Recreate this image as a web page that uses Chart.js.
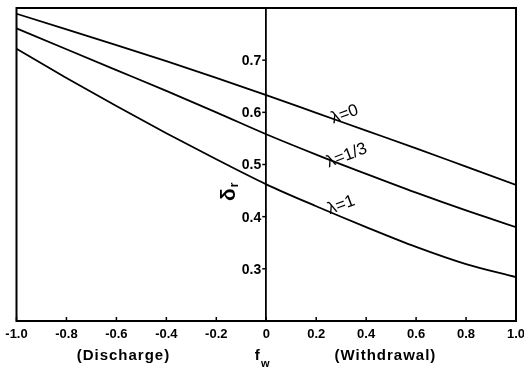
<!DOCTYPE html>
<html>
<head>
<meta charset="utf-8">
<script src="https://cdn.jsdelivr.net/npm/chart.js@4.4.1/dist/chart.umd.min.js"></script>
<style>
  html, body { margin: 0; padding: 0; background: #fff; }
  #wrap { width: 524px; height: 370px; }
</style>
</head>
<body>
<div id="wrap"><canvas id="chart"></canvas></div>
<script>
// ── DATA ──
const fw      = [-1.0, -0.8, -0.6, -0.4, -0.2, 0, 0.2, 0.4, 0.6, 0.8, 1.0];
const delta0  = [0.789, 0.759, 0.729, 0.698, 0.666, 0.633, 0.599, 0.565, 0.531, 0.496, 0.461];
const delta13 = [0.761, 0.721, 0.681, 0.641, 0.600, 0.558, 0.519, 0.482, 0.446, 0.412, 0.380];
const delta1  = [0.722, 0.666, 0.612, 0.560, 0.510, 0.462, 0.420, 0.380, 0.342, 0.309, 0.284];
const curveNames = ['λ=0', 'λ=1/3', 'λ=1'];

const xTicks      = [-1.0, -0.8, -0.6, -0.4, -0.2, 0, 0.2, 0.4, 0.6, 0.8, 1.0];
const xTickLabels = ['-1.0', '-0.8', '-0.6', '-0.4', '-0.2', '0', '0.2', '0.4', '0.6', '0.8', '1.0'];
const yTicks      = [0.3, 0.4, 0.5, 0.6, 0.7];
const yTickLabels = ['0.3', '0.4', '0.5', '0.6', '0.7'];

// ── LABEL SPOTS (data coords) ──
const curveLabelSpots = [
    { f: 0.314, d: 0.596, angle: -20 },
    { f: 0.322, d: 0.517, angle: -21 },
    { f: 0.300, d: 0.422, angle: -20 }
];
const FONT = '"Liberation Sans", Arial, sans-serif';

const toPoints = vals => fw.map((f, i) => ({ x: f, y: vals[i] }));

// ── ANNOTATIONS: frame, ticks, curve names, axis notes ──
const annotate = {
    id: 'annotate',
    afterDraw(chart) {
        const { ctx, chartArea: a, scales: { x, y } } = chart;
        ctx.save();
        ctx.strokeStyle = '#000';
        ctx.fillStyle = '#000';

        // frame
        ctx.lineWidth = 2;
        ctx.strokeRect(a.left, a.top, a.right - a.left, a.bottom - a.top);

        // x ticks point inward
        ctx.lineWidth = 1.5;
        xTicks.forEach(v => {
            const px = x.getPixelForValue(v);
            ctx.beginPath();
            ctx.moveTo(px, a.bottom);
            ctx.lineTo(px, a.bottom - 4);
            ctx.stroke();
        });

        // y ticks + labels on the centre axis
        const ax = x.getPixelForValue(0);
        ctx.font = 'bold 14px ' + FONT;
        ctx.textAlign = 'right';
        ctx.textBaseline = 'middle';
        yTicks.forEach((v, i) => {
            const py = y.getPixelForValue(v);
            ctx.beginPath();
            ctx.moveTo(ax, py);
            ctx.lineTo(ax - 4, py);
            ctx.stroke();
            ctx.fillText(yTickLabels[i], ax - 5, py + 1);
        });

        // curve names
        ctx.font = '17px ' + FONT;
        ctx.textAlign = 'center';
        curveNames.forEach((t, i) => {
            const p = curveLabelSpots[i];
            ctx.save();
            ctx.translate(x.getPixelForValue(p.f), y.getPixelForValue(p.d));
            ctx.rotate(p.angle * Math.PI / 180);
            ctx.fillText(t, 0, 0);
            ctx.restore();
        });

        // y title: delta_r, rotated
        ctx.save();
        ctx.translate(x.getPixelForValue(-0.15), y.getPixelForValue(0.447));
        ctx.rotate(-Math.PI / 2);
        ctx.font = 'bold 21px ' + FONT;
        ctx.textAlign = 'right';
        ctx.fillText('δ', 4, 0);
        ctx.font = 'bold 12px ' + FONT;
        ctx.textAlign = 'left';
        ctx.fillText('r', 5, 6);
        ctx.restore();

        // bottom notes
        const yb = a.bottom + 35;
        ctx.font = 'bold 15px ' + FONT;
        ctx.letterSpacing = '1px';
        ctx.textAlign = 'center';
        ctx.fillText('(Discharge)', x.getPixelForValue(-0.572), yb);
        ctx.fillText('(Withdrawal)', x.getPixelForValue(0.477), yb);
        ctx.letterSpacing = '0px';
        const fx = x.getPixelForValue(-0.02);
        ctx.fillText('f', fx - 4, yb);
        ctx.font = 'bold 11px ' + FONT;
        ctx.fillText('w', fx + 4, yb + 8);

        ctx.restore();
    }
};

const lineStyle = {
    borderColor: '#000',
    borderWidth: 1.8,
    pointRadius: 0,
    fill: false,
    cubicInterpolationMode: 'monotone'
};

new Chart(document.getElementById('chart'), {
    type: 'line',
    data: {
        datasets: [
            { label: curveNames[0], data: toPoints(delta0),  ...lineStyle },
            { label: curveNames[1], data: toPoints(delta13), ...lineStyle },
            { label: curveNames[2], data: toPoints(delta1),  ...lineStyle }
        ]
    },
    options: {
        responsive: true,
        maintainAspectRatio: false,
        animation: false,
        layout: { padding: { top: 8 } },
        plugins: { legend: { display: false }, tooltip: { enabled: false } },
        scales: {
            x: {
                type: 'linear',
                min: -1,
                max: 1,
                afterBuildTicks: s => { s.ticks = xTicks.map(v => ({ value: v })); },
                afterFit: s => { s.paddingLeft = 16.5; s.paddingRight = 8; s.height = 49; },
                grid: { display: false, drawTicks: false },
                border: { display: false },
                ticks: {
                    color: '#000',
                    padding: 6,
                    maxRotation: 0,
                    font: { family: FONT, size: 13, weight: 'bold' },
                    callback: (v, i) => xTickLabels[i]
                }
            },
            y: {
                min: 0.2,
                max: 0.8,
                position: { x: 0 },
                afterFit: s => { s.paddingTop = 0; s.paddingBottom = 0; },
                grid: { display: false, drawTicks: false },
                border: { display: true, color: '#000', width: 1.8 },
                ticks: { display: false }
            }
        }
    },
    plugins: [annotate]
});
</script>
</body>
</html>
